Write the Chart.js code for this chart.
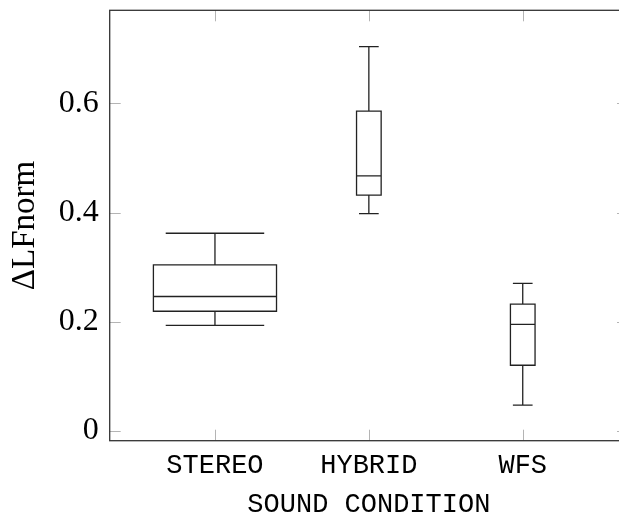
<!DOCTYPE html>
<html>
<head>
<meta charset="utf-8">
<script src="https://cdn.jsdelivr.net/npm/chart.js@4/dist/chart.umd.min.js"></script>
<style>
  html, body { margin: 0; padding: 0; background: #fff; overflow: hidden; }
  canvas { display: block; }
</style>
</head>
<body>
<canvas id="c" width="619" height="516"></canvas>
<script>
// Sound conditions and the five-number summary of ΔLFnorm for each
const categories   = ['STEREO', 'HYBRID', 'WFS'];
const whiskerLow   = [0.193, 0.398, 0.047];
const quartile1    = [0.219, 0.432, 0.120];
const medians      = [0.246, 0.467, 0.195];
const quartile3    = [0.304, 0.586, 0.232];
const whiskerHigh  = [0.362, 0.704, 0.270];
const yTickValues  = [0, 0.2, 0.4, 0.6];

// box widths in x-axis units, caps are a fraction of the box
const boxWidths = [0.8, 0.16, 0.16];
const capRatio = 0.8;
// the plot frame's right edge sits this many pixels past the canvas edge
const rightOverhang = 9;

const serif = '"Liberation Serif", "DejaVu Serif", serif';
const mono = '"Liberation Mono", "DejaVu Sans Mono", monospace';

const boxPlotPlugin = {
  id: 'boxPlot',
  afterLayout(chart) {
    const x = chart.scales.x;
    chart.chartArea.right += rightOverhang;
    chart.chartArea.width += rightOverhang;
    x.right += rightOverhang;
    x.width += rightOverhang;
    x.configure();
  },
  afterDraw(chart) {
    const {ctx, chartArea: a, scales: {x, y}} = chart;
    ctx.save();

    // inward tick marks on all four sides
    const tickLen = 11;
    ctx.strokeStyle = '#b4b4b4';
    ctx.lineWidth = 1;
    ctx.beginPath();
    yTickValues.forEach(v => {
      const py = Math.round(y.getPixelForValue(v)) + 0.5;
      ctx.moveTo(a.left, py); ctx.lineTo(a.left + tickLen, py);
      ctx.moveTo(a.right, py); ctx.lineTo(a.right - tickLen, py);
    });
    categories.forEach((c, i) => {
      const px = Math.round(x.getPixelForValue(i + 1)) + 0.5;
      ctx.moveTo(px, a.bottom); ctx.lineTo(px, a.bottom - tickLen);
      ctx.moveTo(px, a.top); ctx.lineTo(px, a.top + tickLen);
    });
    ctx.stroke();

    // boxes, medians and whiskers
    ctx.strokeStyle = '#222';
    ctx.lineWidth = 1.3;
    categories.forEach((c, i) => {
      const cx = x.getPixelForValue(i + 1);
      const half = (x.getPixelForValue(i + 1 + boxWidths[i] / 2) - cx);
      const capHalf = half * capRatio;
      const yLo = y.getPixelForValue(whiskerLow[i]);
      const yQ1 = y.getPixelForValue(quartile1[i]);
      const yMd = y.getPixelForValue(medians[i]);
      const yQ3 = y.getPixelForValue(quartile3[i]);
      const yHi = y.getPixelForValue(whiskerHigh[i]);

      ctx.beginPath();
      ctx.rect(cx - half, yQ3, half * 2, yQ1 - yQ3);
      ctx.moveTo(cx - half, yMd); ctx.lineTo(cx + half, yMd);
      ctx.moveTo(cx, yQ3); ctx.lineTo(cx, yHi);
      ctx.moveTo(cx - capHalf, yHi); ctx.lineTo(cx + capHalf, yHi);
      ctx.moveTo(cx, yQ1); ctx.lineTo(cx, yLo);
      ctx.moveTo(cx - capHalf, yLo); ctx.lineTo(cx + capHalf, yLo);
      ctx.stroke();
    });

    // axis frame
    ctx.strokeStyle = '#333';
    ctx.lineWidth = 1.3;
    ctx.strokeRect(a.left, a.top, a.right - a.left, a.bottom - a.top);
    ctx.restore();
  }
};

new Chart(document.getElementById('c'), {
  type: 'scatter',
  data: { datasets: [] },
  plugins: [boxPlotPlugin],
  options: {
    responsive: false,
    animation: false,
    layout: { padding: { top: 10.3, right: 0, left: 0, bottom: 0 } },
    plugins: { legend: { display: false }, tooltip: { enabled: false } },
    scales: {
      x: {
        type: 'linear',
        min: 0.316,
        max: 3.684,
        grid: { display: false, drawTicks: false },
        border: { display: false },
        afterBuildTicks: s => { s.ticks = categories.map((c, i) => ({ value: i + 1 })); },
        afterFit: s => { s.height = 75.3; s.paddingLeft = 0; s.paddingRight = 0; },
        ticks: {
          autoSkip: false,
          maxRotation: 0,
          padding: 9,
          color: '#000',
          font: { family: mono, size: 27 },
          callback: v => categories[v - 1]
        },
        title: {
          display: true,
          text: 'SOUND CONDITION',
          color: '#000',
          font: { family: mono, size: 27, lineHeight: 1 },
          padding: { top: 0, bottom: -2.5 }
        }
      },
      y: {
        type: 'linear',
        min: -0.0183,
        max: 0.7707,
        grid: { display: false, drawTicks: false },
        border: { display: false },
        afterBuildTicks: s => { s.ticks = yTickValues.map(v => ({ value: v })); },
        afterFit: s => { s.width = 109.7; s.paddingTop = 0; s.paddingBottom = 0; },
        ticks: {
          padding: 11,
          color: '#000',
          font: { family: serif, size: 32 },
          callback: v => (v === 0 ? '0' : v.toFixed(1))
        },
        title: {
          display: true,
          text: 'ΔLFnorm',
          color: '#000',
          font: { family: serif, size: 33 },
          padding: { top: 6, bottom: 0 }
        }
      }
    }
  }
});
</script>
</body>
</html>
